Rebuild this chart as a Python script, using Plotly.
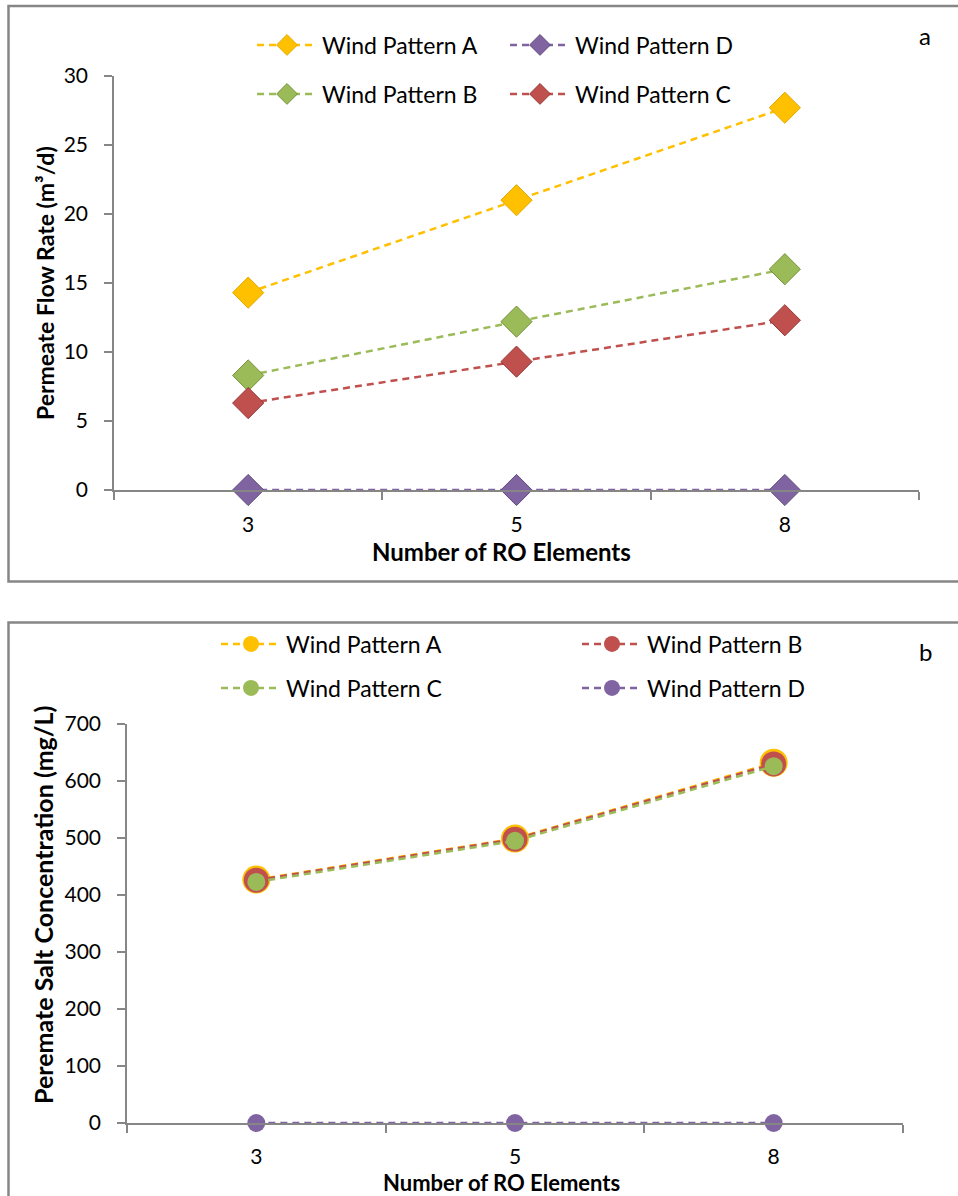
import plotly.graph_objects as go

W, H = 958, 1196

categories = ["3", "5", "8"]

# Panel a: permeate flow rate (m3/d)
flow_A = [14.3, 21.0, 27.7]
flow_B = [8.3, 12.2, 16.0]
flow_C = [6.3, 9.3, 12.3]
flow_D = [0.0, 0.0, 0.0]
flow_ticks = [0, 5, 10, 15, 20, 25, 30]

# Panel b: permeate salt concentration (mg/L)
salt_A = [427, 499, 632]
salt_B = [426, 498, 630]
salt_C = [423, 495, 626]
salt_D = [0, 0, 0]
salt_ticks = [0, 100, 200, 300, 400, 500, 600, 700]

YEL, GRN, RED, PUR = "#FFC000", "#9BBB59", "#C0504D", "#8064A2"
FONT = "Lato"

def px(x):
    return x / W

def py(y):
    return 1 - y / H

fig = go.Figure()

# ---- panel a traces
a_specs = [
    ("Wind Pattern A", flow_A, YEL, "#E0A800", "legend"),
    ("Wind Pattern B", flow_B, GRN, "#76923C", "legend2"),
    ("Wind Pattern C", flow_C, RED, "#943634", "legend3"),
    ("Wind Pattern D", flow_D, PUR, "#5F497A", "legend4"),
]
for name, vals, col, dark, lg in a_specs:
    fig.add_trace(go.Scatter(
        x=categories, y=vals, name=name, mode="lines+markers",
        line=dict(color=col, width=2.5, dash="7px,5px"),
        marker=dict(symbol="diamond", size=24, color=col, line=dict(color=dark, width=1)),
        xaxis="x", yaxis="y", legend=lg, cliponaxis=False,
    ))

# ---- panel b traces
b_specs = [
    ("Wind Pattern A", salt_A, YEL, 28, "legend5"),
    ("Wind Pattern B", salt_B, RED, 25, "legend6"),
    ("Wind Pattern C", salt_C, GRN, 18, "legend7"),
    ("Wind Pattern D", salt_D, PUR, 18, "legend8"),
]
for name, vals, col, sz, lg in b_specs:
    fig.add_trace(go.Scatter(
        x=categories, y=vals, name=name, mode="lines+markers",
        line=dict(color=col, width=2.5, dash="7px,5px"),
        marker=dict(symbol="circle", size=sz, color=col, line=dict(width=0)),
        xaxis="x2", yaxis="y2", legend=lg, cliponaxis=False,
    ))

axis_common = dict(
    showline=True, linecolor="#868686", linewidth=1.5,
    showgrid=False, zeroline=False, ticks="outside", ticklen=8,
    tickcolor="#868686", tickwidth=1.5, automargin=False,
    tickfont=dict(family=FONT, size=21, color="#000000"),
)

leg_font = dict(family=FONT, size=23, color="#000000")

def legend_at(x, y):
    return dict(x=px(x), y=py(y), xanchor="left", yanchor="middle",
                xref="paper", yref="paper", bgcolor="rgba(0,0,0,0)",
                font=leg_font, itemwidth=60, borderwidth=0, tracegroupgap=0)

fig.update_layout(
    width=W, height=H, margin=dict(l=0, r=0, t=0, b=0, autoexpand=False),
    paper_bgcolor="white", plot_bgcolor="white",
    showlegend=True,
    xaxis=dict(axis_common, type="category", domain=[px(114), px(919)],
               anchor="y", range=[-0.5, 2.5], tickson="boundaries",
               ticklabelstandoff=15),
    yaxis=dict(axis_common, domain=[py(490), py(76)], anchor="x",
               range=[0, 30], tickvals=flow_ticks, ticklabelstandoff=12),
    xaxis2=dict(axis_common, type="category", domain=[px(127), px(903)],
                anchor="y2", range=[-0.5, 2.5], tickson="boundaries",
                ticklabelstandoff=14),
    yaxis2=dict(axis_common, domain=[py(1123), py(724)], anchor="x2",
                range=[0, 700], tickvals=salt_ticks, ticklabelstandoff=12),
    legend=legend_at(252, 45),
    legend4=legend_at(505, 45),
    legend2=legend_at(252, 94),
    legend3=legend_at(505, 94),
    legend5=legend_at(216, 644),
    legend6=legend_at(577, 644),
    legend7=legend_at(216, 688),
    legend8=legend_at(577, 688),
)

# panel borders
fig.add_shape(type="rect", xref="paper", yref="paper",
              x0=px(8.5), x1=px(975), y0=py(581.5), y1=py(6),
              line=dict(color="#868686", width=2.5), layer="below")
fig.add_shape(type="rect", xref="paper", yref="paper",
              x0=px(8.5), x1=px(975), y0=py(1215), y1=py(622.5),
              line=dict(color="#868686", width=2.5), layer="below")

annotations = [
    dict(text="<b>Permeate Flow Rate (m³/d)</b>", x=px(45), y=py(283),
         textangle=-90, font=dict(family=FONT, size=23, color="#000000")),
    dict(text="<b>Number of RO Elements</b>", x=px(501), y=py(551),
         font=dict(family=FONT, size=24, color="#000000")),
    dict(text="<b>Peremate Salt Concentration (mg/L)</b>", x=px(43), y=py(905),
         textangle=-90, font=dict(family=FONT, size=25, color="#000000")),
    dict(text="<b>Number of RO Elements</b>", x=px(501), y=py(1182),
         font=dict(family=FONT, size=22, color="#000000")),
    dict(text="a", x=px(925), y=py(35), font=dict(family=FONT, size=24, color="#000000")),
    dict(text="b", x=px(925), y=py(651), font=dict(family=FONT, size=24, color="#000000")),
]
for a in annotations:
    fig.add_annotation(xref="paper", yref="paper", showarrow=False,
                       xanchor="center", yanchor="middle", **a)

fig.write_html("out.html")
